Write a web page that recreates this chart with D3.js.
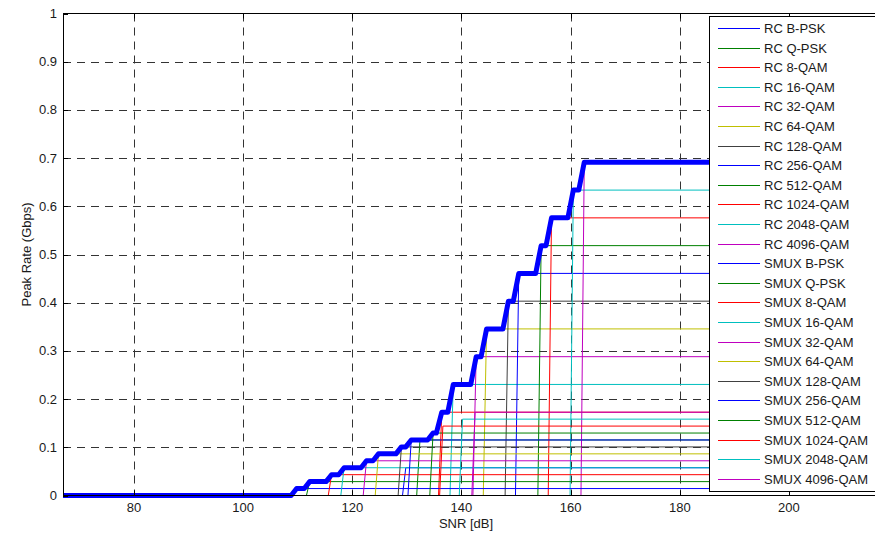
<!DOCTYPE html>
<html lang="en">
<head>
  <meta charset="UTF-8">
  <title>Peak Rate vs SNR</title>
  <script src="https://d3js.org/d3.v7.min.js"></script>
  <style>
    body { margin: 0; background: #fff; }
    svg text { font-family: "Liberation Sans", Arial, sans-serif; fill: #1a1a1a; }
    .grid line { stroke: #333; stroke-width: 1; stroke-dasharray: 8,6; }
    .series { fill: none; stroke-width: 1; }
    .envelope { fill: none; stroke: #0000ff; stroke-width: 5; stroke-linejoin: round; }
  </style>
</head>
<body>
  <svg width="875" height="535"></svg>
  <script>
    // modulation names, same for both schemes
    const modulations = ["B-PSK", "Q-PSK", "8-QAM", "16-QAM", "32-QAM", "64-QAM",
      "128-QAM", "256-QAM", "512-QAM", "1024-QAM", "2048-QAM", "4096-QAM"];

    // peak rate (Gbps) reached by each curve
    const rcRate = [0.0576, 0.1152, 0.1728, 0.2304, 0.288, 0.3456,
      0.4032, 0.4608, 0.5184, 0.576, 0.6336, 0.6912];
    const smuxRate = [0.0144, 0.0288, 0.0432, 0.0576, 0.072, 0.0864,
      0.1008, 0.1152, 0.1296, 0.144, 0.1584, 0.1728];

    // SNR (dB) where each curve switches on
    const rcSnr = [129.8, 132.4, 136.4, 138.5, 142.7, 144.6,
      148.6, 150.5, 154.6, 156.5, 160.5, 162.5];
    const smuxSnr = [109.8, 112.2, 116.2, 118.5, 122.6, 124.8,
      129.0, 130.8, 134.8, 136.6, 140.2, 142.5];

    const xTicks = [80, 100, 120, 140, 160, 180, 200];
    const yTicks = [0, 0.1, 0.2, 0.3, 0.4, 0.5, 0.6, 0.7, 0.8, 0.9, 1];
    const snrRange = [67, 216.5];

    const colorCycle = ["#0000ff", "#008000", "#ff0000", "#00bfbf", "#bf00bf", "#bfbf00", "#404040"];
    const ramp = 0.6;     // slope of the thin curves (dB)
    const envRamp = 1.0;  // slope of the envelope (dB)

    const svg = d3.select("svg");
    const x = d3.scaleLinear().domain(snrRange).range([63, 879]);
    const y = d3.scaleLinear().domain([0, 1]).range([495.5, 13.5]);

    svg.append("defs").append("clipPath").attr("id", "clip")
      .append("rect").attr("x", 63).attr("y", 10).attr("width", 816).attr("height", 490);

    // grid
    const grid = svg.append("g").attr("class", "grid");
    grid.selectAll(".gx").data(xTicks).enter().append("line")
      .attr("x1", d => Math.round(x(d)) + 0.5).attr("x2", d => Math.round(x(d)) + 0.5)
      .attr("y1", y(1)).attr("y2", y(0));
    grid.selectAll(".gy").data(yTicks.slice(1, -1)).enter().append("line")
      .attr("y1", d => Math.round(y(d)) + 0.5).attr("y2", d => Math.round(y(d)) + 0.5)
      .attr("x1", x.range()[0]).attr("x2", x.range()[1]);

    // build the series
    const series = [];
    modulations.forEach((m, i) => series.push({ name: "RC " + m, snr: rcSnr[i], rate: rcRate[i], color: colorCycle[i % 7] }));
    modulations.forEach((m, i) => series.push({ name: "SMUX " + m, snr: smuxSnr[i], rate: smuxRate[i], color: colorCycle[i % 7] }));

    const line = d3.line().x(d => x(d[0])).y(d => y(d[1]));
    const plot = svg.append("g").attr("clip-path", "url(#clip)");

    plot.selectAll(".series").data(series).enter().append("path")
      .attr("class", "series")
      .attr("stroke", d => d.color)
      .attr("d", d => line([[snrRange[0], 0], [d.snr - ramp, 0], [d.snr, d.rate], [snrRange[1], d.rate]]));

    // best achievable rate = upper envelope of all curves
    const sorted = series.slice().sort((a, b) => a.snr - b.snr);
    const env = [[snrRange[0], 0]];
    let best = 0;
    sorted.forEach(s => {
      if (s.rate > best) {
        const last = env[env.length - 1][0];
        env.push([Math.max(last, s.snr - envRamp), best]);
        best = s.rate;
        env.push([s.snr, best]);
      }
    });
    env.push([snrRange[1], best]);
    plot.append("path").attr("class", "envelope").attr("d", line(env));

    // axes box and ticks
    const ax = svg.append("g").attr("stroke", "#000").attr("stroke-width", 1);
    ax.append("line").attr("x1", 63.5).attr("x2", 63.5).attr("y1", 13.5).attr("y2", 495.5);
    ax.append("line").attr("x1", 63).attr("x2", 879).attr("y1", 495.5).attr("y2", 495.5);
    ax.append("line").attr("x1", 63).attr("x2", 879).attr("y1", 13.5).attr("y2", 13.5);
    xTicks.forEach(t => {
      const px = Math.round(x(t)) + 0.5;
      ax.append("line").attr("x1", px).attr("x2", px).attr("y1", 495.5).attr("y2", 490.5);
      ax.append("line").attr("x1", px).attr("x2", px).attr("y1", 13.5).attr("y2", 18.5);
    });
    yTicks.forEach(t => {
      const py = Math.round(y(t)) + 0.5;
      ax.append("line").attr("x1", 63).attr("x2", 68).attr("y1", py).attr("y2", py);
    });

    svg.selectAll(".xt").data(xTicks).enter().append("text")
      .attr("x", d => x(d)).attr("y", 512).attr("text-anchor", "middle")
      .style("font-size", "13px").text(d => d);
    svg.selectAll(".yt").data(yTicks).enter().append("text")
      .attr("x", 57).attr("y", d => y(d) + 4.5).attr("text-anchor", "end")
      .style("font-size", "13px").text(d => d);

    svg.append("text").attr("x", 466).attr("y", 528).attr("text-anchor", "middle")
      .style("font-size", "13px").text("SNR [dB]");
    svg.append("text").attr("transform", "translate(31,254.5) rotate(-90)")
      .attr("text-anchor", "middle").style("font-size", "13px").text("Peak Rate (Gbps)");

    // legend
    const lg = svg.append("g");
    lg.append("rect").attr("x", 709.5).attr("y", 16.5).attr("width", 180).attr("height", 475)
      .attr("fill", "#fff").attr("stroke", "#000");
    const item = lg.selectAll(".item").data(series).enter().append("g")
      .attr("transform", (d, i) => `translate(0,${Math.round(28 + 19.6 * i) + 0.5})`);
    item.append("line").attr("x1", 718).attr("x2", 760).attr("y1", 0).attr("y2", 0)
      .attr("stroke", d => d.color);
    item.append("text").attr("x", 764).attr("y", 4.5).style("font-size", "13px").text(d => d.name);
  </script>
</body>
</html>
